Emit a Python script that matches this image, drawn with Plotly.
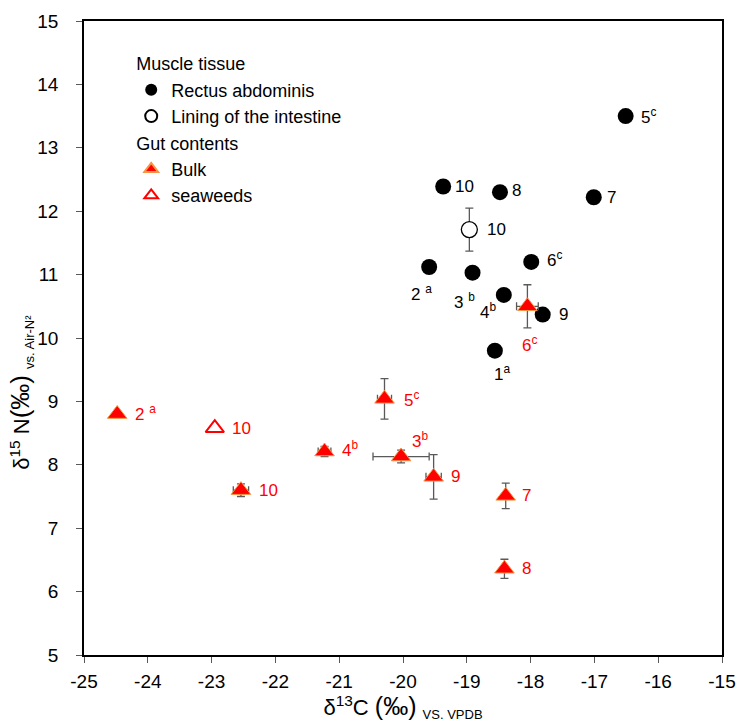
import plotly.graph_objects as go

# ---- Data ----
# Muscle tissue: Rectus abdominis (filled black circles)
rect_x = [-18.56, -19.59, -18.91, -18.42, -16.51, -17.99, -17.01, -18.48, -17.81, -19.37]
rect_y = [9.80, 11.12, 11.03, 10.68, 13.50, 11.20, 12.22, 12.30, 10.37, 12.39]
rect_lab = ["1<sup>a</sup>", "2 <sup>a</sup>", "3 <sup>b</sup>", "4<sup>b</sup>", "5<sup>c</sup>",
            "6<sup>c</sup>", "7", "8", "9", "10"]

# Muscle tissue: Lining of the intestine (open circle)
lin_x = [-18.96]
lin_y = [11.71]
lin_yerr = [0.34]
lin_lab = ["10"]

# Gut contents: Bulk (filled red triangles)
bulk_x = [-24.48, -22.54, -21.23, -20.03, -20.29, -19.52, -18.05, -18.39, -18.41]
bulk_y = [8.80, 7.60, 8.21, 8.13, 9.04, 7.81, 10.50, 7.51, 6.36]
bulk_xerr = [0.0, 0.12, 0.10, 0.44, 0.11, 0.12, 0.17, 0.03, 0.03]
bulk_yerr = [0.0, 0.10, 0.08, 0.10, 0.32, 0.35, 0.34, 0.20, 0.15]
bulk_lab = ["2 <sup>a</sup>", "10", "4<sup>b</sup>", "3<sup>b</sup>", "5<sup>c</sup>",
            "9", "6<sup>c</sup>", "7", "8"]

# Gut contents: seaweeds (open red triangle)
sea_x = [-22.95]
sea_y = [8.58]
sea_lab = ["10"]

x_ticks = [-25, -24, -23, -22, -21, -20, -19, -18, -17, -16, -15]
y_ticks = [5, 6, 7, 8, 9, 10, 11, 12, 13, 14, 15]

# ---- Label offsets (pixels, style only) ----
rect_off = [(7, -22), (-8, -26), (-8, -28), (-16, -16), (23, 0), (23, 3), (18, 0), (17, 2), (21, 0), (21, 0)]
lin_off = [(27, 0)]
bulk_off = [(28, 1), (28, 0), (25, 2), (19, 17), (27, 0), (22, 0), (2, -38), (21, 0), (22, 0)]
sea_off = [(27, 0)]

FONT = "Liberation Sans, Arial, sans-serif"
RED = "#FF0000"
ERR = "#595959"

fig = go.Figure()

fig.add_trace(go.Scatter(
    x=rect_x, y=rect_y, mode="markers", name="Rectus abdominis",
    legendgroup="muscle", legendgrouptitle=dict(text="Muscle tissue", font=dict(size=18, color="black")),
    marker=dict(symbol="circle", size=16, color="black", line=dict(color="black", width=0)),
))
fig.add_trace(go.Scatter(
    x=lin_x, y=lin_y, mode="markers", name="Lining of the intestine",
    legendgroup="muscle",
    marker=dict(symbol="circle", size=16, color="white", line=dict(color="black", width=1.3)),
    error_y=dict(type="data", array=lin_yerr, color=ERR, thickness=1.3, width=4),
))
fig.add_trace(go.Scatter(
    x=bulk_x, y=bulk_y, mode="markers", name="Bulk",
    legendgroup="gut", legendgrouptitle=dict(text="Gut contents", font=dict(size=18, color="black")),
    marker=dict(symbol="triangle-up", size=17, color=RED, line=dict(color="#F79646", width=1)),
    error_x=dict(type="data", array=bulk_xerr, color=ERR, thickness=1.3, width=4),
    error_y=dict(type="data", array=bulk_yerr, color=ERR, thickness=1.3, width=4),
))
fig.add_trace(go.Scatter(
    x=sea_x, y=sea_y, mode="markers", name="seaweeds",
    legendgroup="gut",
    marker=dict(symbol="triangle-up", size=16, color="white", line=dict(color=RED, width=2)),
))

def add_labels(xs, ys, labs, offs, color):
    for x, y, t, (dx, dy) in zip(xs, ys, labs, offs):
        fig.add_annotation(x=x, y=y, xref="x", yref="y", text=t, showarrow=False,
                           xanchor="center", yanchor="middle", xshift=dx, yshift=dy,
                           font=dict(family=FONT, size=17, color=color))

add_labels(rect_x, rect_y, rect_lab, rect_off, "black")
add_labels(lin_x, lin_y, lin_lab, lin_off, "black")
add_labels(bulk_x, bulk_y, bulk_lab, bulk_off, RED)
add_labels(sea_x, sea_y, sea_lab, sea_off, RED)

# y-axis title as annotation
fig.add_annotation(
    x=-0.099, y=0.415, xref="paper", yref="paper", textangle=-90, showarrow=False,
    xanchor="center", yanchor="middle",
    text=("δ<sup>15</sup> N<span style='font-size:26px'>(‰)</span> "
          "<sub><span style='font-size:13px'>vs. Air-N²</span></sub>"),
    font=dict(family=FONT, size=22, color="black"),
)

axis_common = dict(
    showline=True, linecolor="black", linewidth=1.5, mirror=True,
    ticks="outside", ticklen=6, tickcolor="#595959", tickwidth=1,
    showgrid=False, zeroline=False,
    tickfont=dict(family=FONT, size=19, color="black"),
)

fig.update_layout(
    width=747, height=723,
    margin=dict(l=83.5, r=14, t=11, b=68),
    plot_bgcolor="white", paper_bgcolor="white",
    font=dict(family=FONT, size=18, color="black"),
    xaxis=dict(range=[-25, -15], tickvals=x_ticks, ticktext=[str(v) for v in x_ticks],
               ticklabelstandoff=2,
               title=dict(text=("δ<sup>13</sup>C <span style='font-size:25px'>(‰)</span> "
                                "<sub><span style='font-size:13px'>VS. VPDB</span></sub>"),
                          font=dict(family=FONT, size=22), standoff=4),
               **axis_common),
    yaxis=dict(range=[5, 15], tickvals=y_ticks, ticktext=[str(v) for v in y_ticks],
               ticklabelstandoff=14, **axis_common),
    legend=dict(x=0.074, y=0.962, xanchor="left", yanchor="top", bgcolor="rgba(0,0,0,0)",
                font=dict(family=FONT, size=18, color="black"), tracegroupgap=0,
                itemwidth=30, itemsizing="constant"),
    showlegend=True,
)

fig.write_html("out.html")
